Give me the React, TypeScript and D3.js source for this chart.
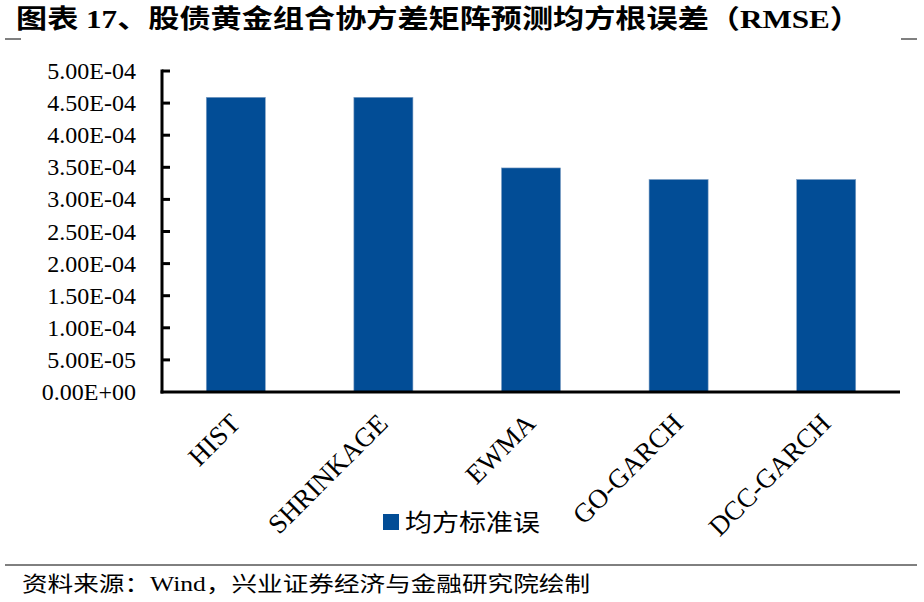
import React from "react";
import * as d3 from "d3";

const categories = ["HIST", "SHRINKAGE", "EWMA", "GO-GARCH", "DCC-GARCH"];
const rmseValues = [4.59e-4, 4.59e-4, 3.49e-4, 3.31e-4, 3.31e-4];
const yTicks = [0, 5e-5, 1e-4, 1.5e-4, 2e-4, 2.5e-4, 3e-4, 3.5e-4, 4e-4, 4.5e-4, 5e-4];
const yTickLabels = ["0.00E+00", "5.00E-05", "1.00E-04", "1.50E-04", "2.00E-04", "2.50E-04", "3.00E-04", "3.50E-04", "4.00E-04", "4.50E-04", "5.00E-04"];
const seriesName = "均方标准误";
const titleText = "图表 17、股债黄金组合协方差矩阵预测均方根误差（RMSE）";
const sourceText = "资料来源：Wind，兴业证券经济与金融研究院绘制";

const W = 924;
const H = 602;
const BAR = "#024d96";
const SERIF = "'Liberation Serif', 'Times New Roman', 'Noto Sans CJK SC', serif";
const CJK = "'Liberation Serif', 'Noto Sans CJK SC', serif";

export default function App() {
  const x = d3.scaleBand<string>().domain(categories).range([162, 900]).paddingInner(0.6).paddingOuter(0.3);
  const y = d3.scaleLinear().domain([0, 5e-4]).range([392, 71]);

  return (
    <svg width={W} height={H} style={{ position: "absolute", left: 0, top: 0, background: "#fff" }}>
      <rect x={0} y={0} width={W} height={H} fill="#fff" />
      {/* Title */}
      <text x={16} y={28} fontFamily={CJK} fontWeight={700} fontSize={26} fill="#000" textLength={845} lengthAdjust="spacingAndGlyphs">
        {titleText}
      </text>
      <line x1={5} x2={21} y1={39} y2={39} stroke="#000" strokeWidth={1} />
      <line x1={901} x2={917} y1={39} y2={39} stroke="#000" strokeWidth={1} />

      {/* bars */}
      {categories.map((c, i) => (
        <rect key={c} x={x(c)} y={y(rmseValues[i])} width={x.bandwidth()} height={y(0) - y(rmseValues[i])} fill={BAR} stroke="#7f9fc4" strokeWidth={0.6} />
      ))}

      {/* y axis */}
      <line x1={162} x2={162} y1={69.5} y2={393.5} stroke="#000" strokeWidth={3} />
      {yTicks.map((t, i) => (
        <g key={i}>
          {i > 0 && <line x1={162} x2={170} y1={y(t)} y2={y(t)} stroke="#000" strokeWidth={3} />}
          <text x={136} y={y(t) + 8} textAnchor="end" fontFamily={SERIF} fontSize={24} fill="#000">
            {yTickLabels[i]}
          </text>
        </g>
      ))}
      {/* x axis */}
      <line x1={160.5} x2={900} y1={392} y2={392} stroke="#000" strokeWidth={3} />

      {/* category labels */}
      {categories.map((c) => {
        const cx = (x(c) as number) + x.bandwidth() / 2 + 6;
        const cy = 425;
        return (
          <text key={c} x={cx} y={cy} transform={`rotate(-45 ${cx} ${cy})`} textAnchor="end" fontFamily={SERIF} fontSize={27} fill="#000">
            {c}
          </text>
        );
      })}

      {/* legend */}
      <rect x={383} y={514} width={16} height={16} fill={BAR} />
      <text x={405} y={531} fontFamily={CJK} fontSize={24} fill="#000" textLength={135} lengthAdjust="spacingAndGlyphs">
        {seriesName}
      </text>

      {/* footer */}
      <line x1={5} x2={917} y1={565} y2={565} stroke="#000" strokeWidth={1} />
      <text x={22} y={591} fontFamily={CJK} fontSize={21} fill="#000" textLength={568} lengthAdjust="spacingAndGlyphs">
        {sourceText}
      </text>
    </svg>
  );
}
